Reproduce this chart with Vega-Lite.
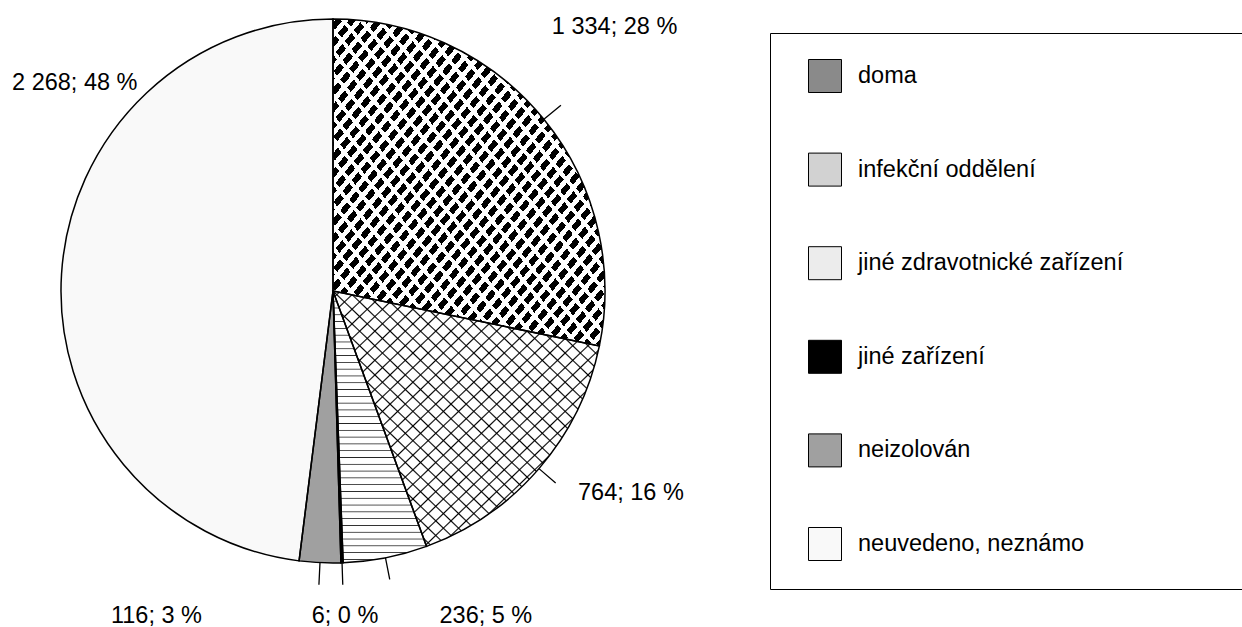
{
  "$schema": "https://vega.github.io/schema/vega-lite/v6.json",
  "width": 666,
  "height": 582,
  "autosize": {"type": "none"},
  "padding": {"left": 0, "top": 0, "right": 576, "bottom": 45},
  "background": "white",
  "config": {"view": {"stroke": null}, "font": "Liberation Sans"},
  "data": {
    "values": [
      {"kategorie": "doma", "n": 1334, "label": "1 334; 28 %"},
      {"kategorie": "infekční oddělení", "n": 764, "label": "764; 16 %"},
      {"kategorie": "jiné zdravotnické zařízení", "n": 236, "label": "236; 5 %"},
      {"kategorie": "jiné zařízení", "n": 6, "label": "6; 0 %"},
      {"kategorie": "neizolován", "n": 116, "label": "116; 3 %"},
      {"kategorie": "neuvedeno, neznámo", "n": 2268, "label": "2 268; 48 %"}
    ]
  },
  "transform": [
    {"window": [{"op": "row_number", "as": "i"}]},
    {"stack": "n", "groupby": [], "sort": [{"field": "i", "order": "ascending"}], "as": ["t0", "t1"]},
    {"calculate": "(datum.t0 + datum.t1) / 2", "as": "mid"}
  ],
  "layer": [
    {
      "mark": {"type": "arc", "outerRadius": 272, "stroke": null},
      "encoding": {
        "theta": {"field": "t1", "type": "quantitative", "stack": null},
        "theta2": {"field": "t0"},
        "fill": {
          "field": "kategorie",
          "type": "nominal",
          "scale": {
            "domain": ["doma", "infekční oddělení", "jiné zdravotnické zařízení", "jiné zařízení", "neizolován", "neuvedeno, neznámo"],
            "range": ["#8a8a8a", "#d2d2d2", "#ececec", "#000000", "#a0a0a0", "#f9f9f9"]
          },
          "legend": {
            "title": null,
            "orient": "none",
            "legendX": 770,
            "legendY": 33,
            "padding": 26,
            "strokeColor": "black",
            "fillColor": "white",
            "symbolType": "square",
            "symbolSize": 1089,
            "symbolStrokeColor": "black",
            "symbolStrokeWidth": 1,
            "symbolOpacity": 1,
            "symbolOffset": 12,
            "labelOffset": 16,
            "labelFontSize": 23.5,
            "labelFont": "Liberation Sans",
            "labelColor": "black",
            "labelLimit": 800,
            "labelExpr": "datum.label + '\u2800\u2800\u2800\u2800\u2800\u2800'",
            "rowPadding": 55.6
          }
        }
      }
    },
    {
      "transform": [{"filter": "datum.kategorie === 'doma'"}],
      "mark": {"type": "arc", "outerRadius": 272, "stroke": null, "fill": {"gradient": "linear", "x1": 0, "y1": 0, "x2": 1, "y2": 1, "stops": [
        {"offset": 0, "color": "#fff"},
        {"offset": 0.0055, "color": "#fff"}, {"offset": 0.0055, "color": "#000"}, {"offset": 0.0195, "color": "#000"}, {"offset": 0.0195, "color": "#fff"},
        {"offset": 0.0305, "color": "#fff"}, {"offset": 0.0305, "color": "#000"}, {"offset": 0.0445, "color": "#000"}, {"offset": 0.0445, "color": "#fff"},
        {"offset": 0.0555, "color": "#fff"}, {"offset": 0.0555, "color": "#000"}, {"offset": 0.0695, "color": "#000"}, {"offset": 0.0695, "color": "#fff"},
        {"offset": 0.0805, "color": "#fff"}, {"offset": 0.0805, "color": "#000"}, {"offset": 0.0945, "color": "#000"}, {"offset": 0.0945, "color": "#fff"},
        {"offset": 0.1055, "color": "#fff"}, {"offset": 0.1055, "color": "#000"}, {"offset": 0.1195, "color": "#000"}, {"offset": 0.1195, "color": "#fff"},
        {"offset": 0.1305, "color": "#fff"}, {"offset": 0.1305, "color": "#000"}, {"offset": 0.1445, "color": "#000"}, {"offset": 0.1445, "color": "#fff"},
        {"offset": 0.1555, "color": "#fff"}, {"offset": 0.1555, "color": "#000"}, {"offset": 0.1695, "color": "#000"}, {"offset": 0.1695, "color": "#fff"},
        {"offset": 0.1805, "color": "#fff"}, {"offset": 0.1805, "color": "#000"}, {"offset": 0.1945, "color": "#000"}, {"offset": 0.1945, "color": "#fff"},
        {"offset": 0.2055, "color": "#fff"}, {"offset": 0.2055, "color": "#000"}, {"offset": 0.2195, "color": "#000"}, {"offset": 0.2195, "color": "#fff"},
        {"offset": 0.2305, "color": "#fff"}, {"offset": 0.2305, "color": "#000"}, {"offset": 0.2445, "color": "#000"}, {"offset": 0.2445, "color": "#fff"},
        {"offset": 0.2555, "color": "#fff"}, {"offset": 0.2555, "color": "#000"}, {"offset": 0.2695, "color": "#000"}, {"offset": 0.2695, "color": "#fff"},
        {"offset": 0.2805, "color": "#fff"}, {"offset": 0.2805, "color": "#000"}, {"offset": 0.2945, "color": "#000"}, {"offset": 0.2945, "color": "#fff"},
        {"offset": 0.3055, "color": "#fff"}, {"offset": 0.3055, "color": "#000"}, {"offset": 0.3195, "color": "#000"}, {"offset": 0.3195, "color": "#fff"},
        {"offset": 0.3305, "color": "#fff"}, {"offset": 0.3305, "color": "#000"}, {"offset": 0.3445, "color": "#000"}, {"offset": 0.3445, "color": "#fff"},
        {"offset": 0.3555, "color": "#fff"}, {"offset": 0.3555, "color": "#000"}, {"offset": 0.3695, "color": "#000"}, {"offset": 0.3695, "color": "#fff"},
        {"offset": 0.3805, "color": "#fff"}, {"offset": 0.3805, "color": "#000"}, {"offset": 0.3945, "color": "#000"}, {"offset": 0.3945, "color": "#fff"},
        {"offset": 0.4055, "color": "#fff"}, {"offset": 0.4055, "color": "#000"}, {"offset": 0.4195, "color": "#000"}, {"offset": 0.4195, "color": "#fff"},
        {"offset": 0.4305, "color": "#fff"}, {"offset": 0.4305, "color": "#000"}, {"offset": 0.4445, "color": "#000"}, {"offset": 0.4445, "color": "#fff"},
        {"offset": 0.4555, "color": "#fff"}, {"offset": 0.4555, "color": "#000"}, {"offset": 0.4695, "color": "#000"}, {"offset": 0.4695, "color": "#fff"},
        {"offset": 0.4805, "color": "#fff"}, {"offset": 0.4805, "color": "#000"}, {"offset": 0.4945, "color": "#000"}, {"offset": 0.4945, "color": "#fff"},
        {"offset": 0.5055, "color": "#fff"}, {"offset": 0.5055, "color": "#000"}, {"offset": 0.5195, "color": "#000"}, {"offset": 0.5195, "color": "#fff"},
        {"offset": 0.5305, "color": "#fff"}, {"offset": 0.5305, "color": "#000"}, {"offset": 0.5445, "color": "#000"}, {"offset": 0.5445, "color": "#fff"},
        {"offset": 0.5555, "color": "#fff"}, {"offset": 0.5555, "color": "#000"}, {"offset": 0.5695, "color": "#000"}, {"offset": 0.5695, "color": "#fff"},
        {"offset": 0.5805, "color": "#fff"}, {"offset": 0.5805, "color": "#000"}, {"offset": 0.5945, "color": "#000"}, {"offset": 0.5945, "color": "#fff"},
        {"offset": 0.6055, "color": "#fff"}, {"offset": 0.6055, "color": "#000"}, {"offset": 0.6195, "color": "#000"}, {"offset": 0.6195, "color": "#fff"},
        {"offset": 0.6305, "color": "#fff"}, {"offset": 0.6305, "color": "#000"}, {"offset": 0.6445, "color": "#000"}, {"offset": 0.6445, "color": "#fff"},
        {"offset": 0.6555, "color": "#fff"}, {"offset": 0.6555, "color": "#000"}, {"offset": 0.6695, "color": "#000"}, {"offset": 0.6695, "color": "#fff"},
        {"offset": 0.6805, "color": "#fff"}, {"offset": 0.6805, "color": "#000"}, {"offset": 0.6945, "color": "#000"}, {"offset": 0.6945, "color": "#fff"},
        {"offset": 0.7055, "color": "#fff"}, {"offset": 0.7055, "color": "#000"}, {"offset": 0.7195, "color": "#000"}, {"offset": 0.7195, "color": "#fff"},
        {"offset": 0.7305, "color": "#fff"}, {"offset": 0.7305, "color": "#000"}, {"offset": 0.7445, "color": "#000"}, {"offset": 0.7445, "color": "#fff"},
        {"offset": 0.7555, "color": "#fff"}, {"offset": 0.7555, "color": "#000"}, {"offset": 0.7695, "color": "#000"}, {"offset": 0.7695, "color": "#fff"},
        {"offset": 0.7805, "color": "#fff"}, {"offset": 0.7805, "color": "#000"}, {"offset": 0.7945, "color": "#000"}, {"offset": 0.7945, "color": "#fff"},
        {"offset": 0.8055, "color": "#fff"}, {"offset": 0.8055, "color": "#000"}, {"offset": 0.8195, "color": "#000"}, {"offset": 0.8195, "color": "#fff"},
        {"offset": 0.8305, "color": "#fff"}, {"offset": 0.8305, "color": "#000"}, {"offset": 0.8445, "color": "#000"}, {"offset": 0.8445, "color": "#fff"},
        {"offset": 0.8555, "color": "#fff"}, {"offset": 0.8555, "color": "#000"}, {"offset": 0.8695, "color": "#000"}, {"offset": 0.8695, "color": "#fff"},
        {"offset": 0.8805, "color": "#fff"}, {"offset": 0.8805, "color": "#000"}, {"offset": 0.8945, "color": "#000"}, {"offset": 0.8945, "color": "#fff"},
        {"offset": 0.9055, "color": "#fff"}, {"offset": 0.9055, "color": "#000"}, {"offset": 0.9195, "color": "#000"}, {"offset": 0.9195, "color": "#fff"},
        {"offset": 0.9305, "color": "#fff"}, {"offset": 0.9305, "color": "#000"}, {"offset": 0.9445, "color": "#000"}, {"offset": 0.9445, "color": "#fff"},
        {"offset": 0.9555, "color": "#fff"}, {"offset": 0.9555, "color": "#000"}, {"offset": 0.9695, "color": "#000"}, {"offset": 0.9695, "color": "#fff"},
        {"offset": 0.9805, "color": "#fff"}, {"offset": 0.9805, "color": "#000"}, {"offset": 0.9945, "color": "#000"}, {"offset": 0.9945, "color": "#fff"},
        {"offset": 1, "color": "#fff"}
      ]}},
      "encoding": {"theta": {"field": "t1", "type": "quantitative", "stack": null}, "theta2": {"field": "t0"}}
    },
    {
      "transform": [{"filter": "datum.kategorie === 'doma'"}],
      "mark": {"type": "arc", "outerRadius": 272, "stroke": null, "fill": {"gradient": "linear", "x1": 1, "y1": 0, "x2": 0, "y2": 1, "stops": [
        {"offset": 0, "color": "transparent"},
        {"offset": 0.0122, "color": "transparent"}, {"offset": 0.0122, "color": "#fff"}, {"offset": 0.0212, "color": "#fff"}, {"offset": 0.0212, "color": "transparent"},
        {"offset": 0.0455, "color": "transparent"}, {"offset": 0.0455, "color": "#fff"}, {"offset": 0.0545, "color": "#fff"}, {"offset": 0.0545, "color": "transparent"},
        {"offset": 0.0788, "color": "transparent"}, {"offset": 0.0788, "color": "#fff"}, {"offset": 0.0878, "color": "#fff"}, {"offset": 0.0878, "color": "transparent"},
        {"offset": 0.1122, "color": "transparent"}, {"offset": 0.1122, "color": "#fff"}, {"offset": 0.1212, "color": "#fff"}, {"offset": 0.1212, "color": "transparent"},
        {"offset": 0.1455, "color": "transparent"}, {"offset": 0.1455, "color": "#fff"}, {"offset": 0.1545, "color": "#fff"}, {"offset": 0.1545, "color": "transparent"},
        {"offset": 0.1788, "color": "transparent"}, {"offset": 0.1788, "color": "#fff"}, {"offset": 0.1878, "color": "#fff"}, {"offset": 0.1878, "color": "transparent"},
        {"offset": 0.2122, "color": "transparent"}, {"offset": 0.2122, "color": "#fff"}, {"offset": 0.2212, "color": "#fff"}, {"offset": 0.2212, "color": "transparent"},
        {"offset": 0.2455, "color": "transparent"}, {"offset": 0.2455, "color": "#fff"}, {"offset": 0.2545, "color": "#fff"}, {"offset": 0.2545, "color": "transparent"},
        {"offset": 0.2788, "color": "transparent"}, {"offset": 0.2788, "color": "#fff"}, {"offset": 0.2878, "color": "#fff"}, {"offset": 0.2878, "color": "transparent"},
        {"offset": 0.3122, "color": "transparent"}, {"offset": 0.3122, "color": "#fff"}, {"offset": 0.3212, "color": "#fff"}, {"offset": 0.3212, "color": "transparent"},
        {"offset": 0.3455, "color": "transparent"}, {"offset": 0.3455, "color": "#fff"}, {"offset": 0.3545, "color": "#fff"}, {"offset": 0.3545, "color": "transparent"},
        {"offset": 0.3788, "color": "transparent"}, {"offset": 0.3788, "color": "#fff"}, {"offset": 0.3878, "color": "#fff"}, {"offset": 0.3878, "color": "transparent"},
        {"offset": 0.4122, "color": "transparent"}, {"offset": 0.4122, "color": "#fff"}, {"offset": 0.4212, "color": "#fff"}, {"offset": 0.4212, "color": "transparent"},
        {"offset": 0.4455, "color": "transparent"}, {"offset": 0.4455, "color": "#fff"}, {"offset": 0.4545, "color": "#fff"}, {"offset": 0.4545, "color": "transparent"},
        {"offset": 0.4788, "color": "transparent"}, {"offset": 0.4788, "color": "#fff"}, {"offset": 0.4878, "color": "#fff"}, {"offset": 0.4878, "color": "transparent"},
        {"offset": 0.5122, "color": "transparent"}, {"offset": 0.5122, "color": "#fff"}, {"offset": 0.5212, "color": "#fff"}, {"offset": 0.5212, "color": "transparent"},
        {"offset": 0.5455, "color": "transparent"}, {"offset": 0.5455, "color": "#fff"}, {"offset": 0.5545, "color": "#fff"}, {"offset": 0.5545, "color": "transparent"},
        {"offset": 0.5788, "color": "transparent"}, {"offset": 0.5788, "color": "#fff"}, {"offset": 0.5878, "color": "#fff"}, {"offset": 0.5878, "color": "transparent"},
        {"offset": 0.6122, "color": "transparent"}, {"offset": 0.6122, "color": "#fff"}, {"offset": 0.6212, "color": "#fff"}, {"offset": 0.6212, "color": "transparent"},
        {"offset": 0.6455, "color": "transparent"}, {"offset": 0.6455, "color": "#fff"}, {"offset": 0.6545, "color": "#fff"}, {"offset": 0.6545, "color": "transparent"},
        {"offset": 0.6788, "color": "transparent"}, {"offset": 0.6788, "color": "#fff"}, {"offset": 0.6878, "color": "#fff"}, {"offset": 0.6878, "color": "transparent"},
        {"offset": 0.7122, "color": "transparent"}, {"offset": 0.7122, "color": "#fff"}, {"offset": 0.7212, "color": "#fff"}, {"offset": 0.7212, "color": "transparent"},
        {"offset": 0.7455, "color": "transparent"}, {"offset": 0.7455, "color": "#fff"}, {"offset": 0.7545, "color": "#fff"}, {"offset": 0.7545, "color": "transparent"},
        {"offset": 0.7788, "color": "transparent"}, {"offset": 0.7788, "color": "#fff"}, {"offset": 0.7878, "color": "#fff"}, {"offset": 0.7878, "color": "transparent"},
        {"offset": 0.8122, "color": "transparent"}, {"offset": 0.8122, "color": "#fff"}, {"offset": 0.8212, "color": "#fff"}, {"offset": 0.8212, "color": "transparent"},
        {"offset": 0.8455, "color": "transparent"}, {"offset": 0.8455, "color": "#fff"}, {"offset": 0.8545, "color": "#fff"}, {"offset": 0.8545, "color": "transparent"},
        {"offset": 0.8788, "color": "transparent"}, {"offset": 0.8788, "color": "#fff"}, {"offset": 0.8878, "color": "#fff"}, {"offset": 0.8878, "color": "transparent"},
        {"offset": 0.9122, "color": "transparent"}, {"offset": 0.9122, "color": "#fff"}, {"offset": 0.9212, "color": "#fff"}, {"offset": 0.9212, "color": "transparent"},
        {"offset": 0.9455, "color": "transparent"}, {"offset": 0.9455, "color": "#fff"}, {"offset": 0.9545, "color": "#fff"}, {"offset": 0.9545, "color": "transparent"},
        {"offset": 0.9788, "color": "transparent"}, {"offset": 0.9788, "color": "#fff"}, {"offset": 0.9878, "color": "#fff"}, {"offset": 0.9878, "color": "transparent"},
        {"offset": 1, "color": "transparent"}
      ]}},
      "encoding": {"theta": {"field": "t1", "type": "quantitative", "stack": null}, "theta2": {"field": "t0"}}
    },
    {
      "transform": [{"filter": "datum.kategorie === 'infekční oddělení'"}],
      "mark": {"type": "arc", "outerRadius": 272, "stroke": null, "fill": {"gradient": "linear", "x1": 0, "y1": 0, "x2": 1, "y2": 1, "stops": [
        {"offset": 0, "color": "#fff"},
        {"offset": 0.0113, "color": "#fff"}, {"offset": 0.0143, "color": "#000"}, {"offset": 0.0173, "color": "#fff"},
        {"offset": 0.0399, "color": "#fff"}, {"offset": 0.0429, "color": "#000"}, {"offset": 0.0459, "color": "#fff"},
        {"offset": 0.0684, "color": "#fff"}, {"offset": 0.0714, "color": "#000"}, {"offset": 0.0744, "color": "#fff"},
        {"offset": 0.0970, "color": "#fff"}, {"offset": 0.1000, "color": "#000"}, {"offset": 0.1030, "color": "#fff"},
        {"offset": 0.1256, "color": "#fff"}, {"offset": 0.1286, "color": "#000"}, {"offset": 0.1316, "color": "#fff"},
        {"offset": 0.1541, "color": "#fff"}, {"offset": 0.1571, "color": "#000"}, {"offset": 0.1601, "color": "#fff"},
        {"offset": 0.1827, "color": "#fff"}, {"offset": 0.1857, "color": "#000"}, {"offset": 0.1887, "color": "#fff"},
        {"offset": 0.2113, "color": "#fff"}, {"offset": 0.2143, "color": "#000"}, {"offset": 0.2173, "color": "#fff"},
        {"offset": 0.2399, "color": "#fff"}, {"offset": 0.2429, "color": "#000"}, {"offset": 0.2459, "color": "#fff"},
        {"offset": 0.2684, "color": "#fff"}, {"offset": 0.2714, "color": "#000"}, {"offset": 0.2744, "color": "#fff"},
        {"offset": 0.2970, "color": "#fff"}, {"offset": 0.3000, "color": "#000"}, {"offset": 0.3030, "color": "#fff"},
        {"offset": 0.3256, "color": "#fff"}, {"offset": 0.3286, "color": "#000"}, {"offset": 0.3316, "color": "#fff"},
        {"offset": 0.3541, "color": "#fff"}, {"offset": 0.3571, "color": "#000"}, {"offset": 0.3601, "color": "#fff"},
        {"offset": 0.3827, "color": "#fff"}, {"offset": 0.3857, "color": "#000"}, {"offset": 0.3887, "color": "#fff"},
        {"offset": 0.4113, "color": "#fff"}, {"offset": 0.4143, "color": "#000"}, {"offset": 0.4173, "color": "#fff"},
        {"offset": 0.4399, "color": "#fff"}, {"offset": 0.4429, "color": "#000"}, {"offset": 0.4459, "color": "#fff"},
        {"offset": 0.4684, "color": "#fff"}, {"offset": 0.4714, "color": "#000"}, {"offset": 0.4744, "color": "#fff"},
        {"offset": 0.4970, "color": "#fff"}, {"offset": 0.5000, "color": "#000"}, {"offset": 0.5030, "color": "#fff"},
        {"offset": 0.5256, "color": "#fff"}, {"offset": 0.5286, "color": "#000"}, {"offset": 0.5316, "color": "#fff"},
        {"offset": 0.5541, "color": "#fff"}, {"offset": 0.5571, "color": "#000"}, {"offset": 0.5601, "color": "#fff"},
        {"offset": 0.5827, "color": "#fff"}, {"offset": 0.5857, "color": "#000"}, {"offset": 0.5887, "color": "#fff"},
        {"offset": 0.6113, "color": "#fff"}, {"offset": 0.6143, "color": "#000"}, {"offset": 0.6173, "color": "#fff"},
        {"offset": 0.6399, "color": "#fff"}, {"offset": 0.6429, "color": "#000"}, {"offset": 0.6459, "color": "#fff"},
        {"offset": 0.6684, "color": "#fff"}, {"offset": 0.6714, "color": "#000"}, {"offset": 0.6744, "color": "#fff"},
        {"offset": 0.6970, "color": "#fff"}, {"offset": 0.7000, "color": "#000"}, {"offset": 0.7030, "color": "#fff"},
        {"offset": 0.7256, "color": "#fff"}, {"offset": 0.7286, "color": "#000"}, {"offset": 0.7316, "color": "#fff"},
        {"offset": 0.7541, "color": "#fff"}, {"offset": 0.7571, "color": "#000"}, {"offset": 0.7601, "color": "#fff"},
        {"offset": 0.7827, "color": "#fff"}, {"offset": 0.7857, "color": "#000"}, {"offset": 0.7887, "color": "#fff"},
        {"offset": 0.8113, "color": "#fff"}, {"offset": 0.8143, "color": "#000"}, {"offset": 0.8173, "color": "#fff"},
        {"offset": 0.8399, "color": "#fff"}, {"offset": 0.8429, "color": "#000"}, {"offset": 0.8459, "color": "#fff"},
        {"offset": 0.8684, "color": "#fff"}, {"offset": 0.8714, "color": "#000"}, {"offset": 0.8744, "color": "#fff"},
        {"offset": 0.8970, "color": "#fff"}, {"offset": 0.9000, "color": "#000"}, {"offset": 0.9030, "color": "#fff"},
        {"offset": 0.9256, "color": "#fff"}, {"offset": 0.9286, "color": "#000"}, {"offset": 0.9316, "color": "#fff"},
        {"offset": 0.9541, "color": "#fff"}, {"offset": 0.9571, "color": "#000"}, {"offset": 0.9601, "color": "#fff"},
        {"offset": 0.9827, "color": "#fff"}, {"offset": 0.9857, "color": "#000"}, {"offset": 0.9887, "color": "#fff"},
        {"offset": 1, "color": "#fff"}
      ]}},
      "encoding": {"theta": {"field": "t1", "type": "quantitative", "stack": null}, "theta2": {"field": "t0"}}
    },
    {
      "transform": [{"filter": "datum.kategorie === 'infekční oddělení'"}],
      "mark": {"type": "arc", "outerRadius": 272, "stroke": null, "fill": {"gradient": "linear", "x1": 1, "y1": 0, "x2": 0, "y2": 1, "stops": [
        {"offset": 0, "color": "transparent"},
        {"offset": 0.0113, "color": "transparent"}, {"offset": 0.0143, "color": "#000"}, {"offset": 0.0173, "color": "transparent"},
        {"offset": 0.0399, "color": "transparent"}, {"offset": 0.0429, "color": "#000"}, {"offset": 0.0459, "color": "transparent"},
        {"offset": 0.0684, "color": "transparent"}, {"offset": 0.0714, "color": "#000"}, {"offset": 0.0744, "color": "transparent"},
        {"offset": 0.0970, "color": "transparent"}, {"offset": 0.1000, "color": "#000"}, {"offset": 0.1030, "color": "transparent"},
        {"offset": 0.1256, "color": "transparent"}, {"offset": 0.1286, "color": "#000"}, {"offset": 0.1316, "color": "transparent"},
        {"offset": 0.1541, "color": "transparent"}, {"offset": 0.1571, "color": "#000"}, {"offset": 0.1601, "color": "transparent"},
        {"offset": 0.1827, "color": "transparent"}, {"offset": 0.1857, "color": "#000"}, {"offset": 0.1887, "color": "transparent"},
        {"offset": 0.2113, "color": "transparent"}, {"offset": 0.2143, "color": "#000"}, {"offset": 0.2173, "color": "transparent"},
        {"offset": 0.2399, "color": "transparent"}, {"offset": 0.2429, "color": "#000"}, {"offset": 0.2459, "color": "transparent"},
        {"offset": 0.2684, "color": "transparent"}, {"offset": 0.2714, "color": "#000"}, {"offset": 0.2744, "color": "transparent"},
        {"offset": 0.2970, "color": "transparent"}, {"offset": 0.3000, "color": "#000"}, {"offset": 0.3030, "color": "transparent"},
        {"offset": 0.3256, "color": "transparent"}, {"offset": 0.3286, "color": "#000"}, {"offset": 0.3316, "color": "transparent"},
        {"offset": 0.3541, "color": "transparent"}, {"offset": 0.3571, "color": "#000"}, {"offset": 0.3601, "color": "transparent"},
        {"offset": 0.3827, "color": "transparent"}, {"offset": 0.3857, "color": "#000"}, {"offset": 0.3887, "color": "transparent"},
        {"offset": 0.4113, "color": "transparent"}, {"offset": 0.4143, "color": "#000"}, {"offset": 0.4173, "color": "transparent"},
        {"offset": 0.4399, "color": "transparent"}, {"offset": 0.4429, "color": "#000"}, {"offset": 0.4459, "color": "transparent"},
        {"offset": 0.4684, "color": "transparent"}, {"offset": 0.4714, "color": "#000"}, {"offset": 0.4744, "color": "transparent"},
        {"offset": 0.4970, "color": "transparent"}, {"offset": 0.5000, "color": "#000"}, {"offset": 0.5030, "color": "transparent"},
        {"offset": 0.5256, "color": "transparent"}, {"offset": 0.5286, "color": "#000"}, {"offset": 0.5316, "color": "transparent"},
        {"offset": 0.5541, "color": "transparent"}, {"offset": 0.5571, "color": "#000"}, {"offset": 0.5601, "color": "transparent"},
        {"offset": 0.5827, "color": "transparent"}, {"offset": 0.5857, "color": "#000"}, {"offset": 0.5887, "color": "transparent"},
        {"offset": 0.6113, "color": "transparent"}, {"offset": 0.6143, "color": "#000"}, {"offset": 0.6173, "color": "transparent"},
        {"offset": 0.6399, "color": "transparent"}, {"offset": 0.6429, "color": "#000"}, {"offset": 0.6459, "color": "transparent"},
        {"offset": 0.6684, "color": "transparent"}, {"offset": 0.6714, "color": "#000"}, {"offset": 0.6744, "color": "transparent"},
        {"offset": 0.6970, "color": "transparent"}, {"offset": 0.7000, "color": "#000"}, {"offset": 0.7030, "color": "transparent"},
        {"offset": 0.7256, "color": "transparent"}, {"offset": 0.7286, "color": "#000"}, {"offset": 0.7316, "color": "transparent"},
        {"offset": 0.7541, "color": "transparent"}, {"offset": 0.7571, "color": "#000"}, {"offset": 0.7601, "color": "transparent"},
        {"offset": 0.7827, "color": "transparent"}, {"offset": 0.7857, "color": "#000"}, {"offset": 0.7887, "color": "transparent"},
        {"offset": 0.8113, "color": "transparent"}, {"offset": 0.8143, "color": "#000"}, {"offset": 0.8173, "color": "transparent"},
        {"offset": 0.8399, "color": "transparent"}, {"offset": 0.8429, "color": "#000"}, {"offset": 0.8459, "color": "transparent"},
        {"offset": 0.8684, "color": "transparent"}, {"offset": 0.8714, "color": "#000"}, {"offset": 0.8744, "color": "transparent"},
        {"offset": 0.8970, "color": "transparent"}, {"offset": 0.9000, "color": "#000"}, {"offset": 0.9030, "color": "transparent"},
        {"offset": 0.9256, "color": "transparent"}, {"offset": 0.9286, "color": "#000"}, {"offset": 0.9316, "color": "transparent"},
        {"offset": 0.9541, "color": "transparent"}, {"offset": 0.9571, "color": "#000"}, {"offset": 0.9601, "color": "transparent"},
        {"offset": 0.9827, "color": "transparent"}, {"offset": 0.9857, "color": "#000"}, {"offset": 0.9887, "color": "transparent"},
        {"offset": 1, "color": "transparent"}
      ]}},
      "encoding": {"theta": {"field": "t1", "type": "quantitative", "stack": null}, "theta2": {"field": "t0"}}
    },
    {
      "transform": [{"filter": "datum.kategorie === 'jiné zdravotnické zařízení'"}],
      "mark": {"type": "arc", "outerRadius": 272, "stroke": null, "fill": {"gradient": "linear", "x1": 0, "y1": 0, "x2": 0, "y2": 1, "stops": [
        {"offset": 0, "color": "#fff"},
        {"offset": 0.0095, "color": "#fff"}, {"offset": 0.0125, "color": "#222"}, {"offset": 0.0155, "color": "#fff"},
        {"offset": 0.0345, "color": "#fff"}, {"offset": 0.0375, "color": "#222"}, {"offset": 0.0405, "color": "#fff"},
        {"offset": 0.0595, "color": "#fff"}, {"offset": 0.0625, "color": "#222"}, {"offset": 0.0655, "color": "#fff"},
        {"offset": 0.0845, "color": "#fff"}, {"offset": 0.0875, "color": "#222"}, {"offset": 0.0905, "color": "#fff"},
        {"offset": 0.1095, "color": "#fff"}, {"offset": 0.1125, "color": "#222"}, {"offset": 0.1155, "color": "#fff"},
        {"offset": 0.1345, "color": "#fff"}, {"offset": 0.1375, "color": "#222"}, {"offset": 0.1405, "color": "#fff"},
        {"offset": 0.1595, "color": "#fff"}, {"offset": 0.1625, "color": "#222"}, {"offset": 0.1655, "color": "#fff"},
        {"offset": 0.1845, "color": "#fff"}, {"offset": 0.1875, "color": "#222"}, {"offset": 0.1905, "color": "#fff"},
        {"offset": 0.2095, "color": "#fff"}, {"offset": 0.2125, "color": "#222"}, {"offset": 0.2155, "color": "#fff"},
        {"offset": 0.2345, "color": "#fff"}, {"offset": 0.2375, "color": "#222"}, {"offset": 0.2405, "color": "#fff"},
        {"offset": 0.2595, "color": "#fff"}, {"offset": 0.2625, "color": "#222"}, {"offset": 0.2655, "color": "#fff"},
        {"offset": 0.2845, "color": "#fff"}, {"offset": 0.2875, "color": "#222"}, {"offset": 0.2905, "color": "#fff"},
        {"offset": 0.3095, "color": "#fff"}, {"offset": 0.3125, "color": "#222"}, {"offset": 0.3155, "color": "#fff"},
        {"offset": 0.3345, "color": "#fff"}, {"offset": 0.3375, "color": "#222"}, {"offset": 0.3405, "color": "#fff"},
        {"offset": 0.3595, "color": "#fff"}, {"offset": 0.3625, "color": "#222"}, {"offset": 0.3655, "color": "#fff"},
        {"offset": 0.3845, "color": "#fff"}, {"offset": 0.3875, "color": "#222"}, {"offset": 0.3905, "color": "#fff"},
        {"offset": 0.4095, "color": "#fff"}, {"offset": 0.4125, "color": "#222"}, {"offset": 0.4155, "color": "#fff"},
        {"offset": 0.4345, "color": "#fff"}, {"offset": 0.4375, "color": "#222"}, {"offset": 0.4405, "color": "#fff"},
        {"offset": 0.4595, "color": "#fff"}, {"offset": 0.4625, "color": "#222"}, {"offset": 0.4655, "color": "#fff"},
        {"offset": 0.4845, "color": "#fff"}, {"offset": 0.4875, "color": "#222"}, {"offset": 0.4905, "color": "#fff"},
        {"offset": 0.5095, "color": "#fff"}, {"offset": 0.5125, "color": "#222"}, {"offset": 0.5155, "color": "#fff"},
        {"offset": 0.5345, "color": "#fff"}, {"offset": 0.5375, "color": "#222"}, {"offset": 0.5405, "color": "#fff"},
        {"offset": 0.5595, "color": "#fff"}, {"offset": 0.5625, "color": "#222"}, {"offset": 0.5655, "color": "#fff"},
        {"offset": 0.5845, "color": "#fff"}, {"offset": 0.5875, "color": "#222"}, {"offset": 0.5905, "color": "#fff"},
        {"offset": 0.6095, "color": "#fff"}, {"offset": 0.6125, "color": "#222"}, {"offset": 0.6155, "color": "#fff"},
        {"offset": 0.6345, "color": "#fff"}, {"offset": 0.6375, "color": "#222"}, {"offset": 0.6405, "color": "#fff"},
        {"offset": 0.6595, "color": "#fff"}, {"offset": 0.6625, "color": "#222"}, {"offset": 0.6655, "color": "#fff"},
        {"offset": 0.6845, "color": "#fff"}, {"offset": 0.6875, "color": "#222"}, {"offset": 0.6905, "color": "#fff"},
        {"offset": 0.7095, "color": "#fff"}, {"offset": 0.7125, "color": "#222"}, {"offset": 0.7155, "color": "#fff"},
        {"offset": 0.7345, "color": "#fff"}, {"offset": 0.7375, "color": "#222"}, {"offset": 0.7405, "color": "#fff"},
        {"offset": 0.7595, "color": "#fff"}, {"offset": 0.7625, "color": "#222"}, {"offset": 0.7655, "color": "#fff"},
        {"offset": 0.7845, "color": "#fff"}, {"offset": 0.7875, "color": "#222"}, {"offset": 0.7905, "color": "#fff"},
        {"offset": 0.8095, "color": "#fff"}, {"offset": 0.8125, "color": "#222"}, {"offset": 0.8155, "color": "#fff"},
        {"offset": 0.8345, "color": "#fff"}, {"offset": 0.8375, "color": "#222"}, {"offset": 0.8405, "color": "#fff"},
        {"offset": 0.8595, "color": "#fff"}, {"offset": 0.8625, "color": "#222"}, {"offset": 0.8655, "color": "#fff"},
        {"offset": 0.8845, "color": "#fff"}, {"offset": 0.8875, "color": "#222"}, {"offset": 0.8905, "color": "#fff"},
        {"offset": 0.9095, "color": "#fff"}, {"offset": 0.9125, "color": "#222"}, {"offset": 0.9155, "color": "#fff"},
        {"offset": 0.9345, "color": "#fff"}, {"offset": 0.9375, "color": "#222"}, {"offset": 0.9405, "color": "#fff"},
        {"offset": 0.9595, "color": "#fff"}, {"offset": 0.9625, "color": "#222"}, {"offset": 0.9655, "color": "#fff"},
        {"offset": 0.9845, "color": "#fff"}, {"offset": 0.9875, "color": "#222"}, {"offset": 0.9905, "color": "#fff"},
        {"offset": 1, "color": "#fff"}
      ]}},
      "encoding": {"theta": {"field": "t1", "type": "quantitative", "stack": null}, "theta2": {"field": "t0"}}
    },
    {
      "mark": {"type": "arc", "outerRadius": 272, "fillOpacity": 0, "stroke": "black", "strokeWidth": 1.5},
      "encoding": {"theta": {"field": "t1", "type": "quantitative", "stack": null}, "theta2": {"field": "t0"}}
    },
    {
      "transform": [{"filter": "datum.kategorie !== 'neuvedeno, neznámo'"}],
      "mark": {"type": "arc", "radius": 294, "radius2": 272, "fillOpacity": 0, "stroke": "black", "strokeWidth": 1.3},
      "encoding": {
        "theta": {"field": "mid", "type": "quantitative", "stack": null},
        "theta2": {"field": "mid"}
      }
    },
    {
      "transform": [{"filter": "datum.kategorie === 'doma'"}],
      "mark": {"type": "text", "radius": 272, "align": "left", "baseline": "alphabetic", "dx": 8, "dy": -85, "fontSize": 23.5, "font": "Liberation Sans", "color": "black"},
      "encoding": {"theta": {"field": "mid", "type": "quantitative", "stack": null}, "text": {"field": "label"}}
    },
    {
      "transform": [{"filter": "datum.kategorie === 'infekční oddělení'"}],
      "mark": {"type": "text", "radius": 272, "align": "left", "baseline": "alphabetic", "dx": 39, "dy": 31, "fontSize": 23.5, "font": "Liberation Sans", "color": "black"},
      "encoding": {"theta": {"field": "mid", "type": "quantitative", "stack": null}, "text": {"field": "label"}}
    },
    {
      "transform": [{"filter": "datum.kategorie === 'jiné zdravotnické zařízení'"}],
      "mark": {"type": "text", "radius": 272, "align": "left", "baseline": "alphabetic", "dx": 54, "dy": 65, "fontSize": 23.5, "font": "Liberation Sans", "color": "black"},
      "encoding": {"theta": {"field": "mid", "type": "quantitative", "stack": null}, "text": {"field": "label"}}
    },
    {
      "transform": [{"filter": "datum.kategorie === 'jiné zařízení'"}],
      "mark": {"type": "text", "radius": 272, "align": "center", "baseline": "alphabetic", "dx": 3, "dy": 60, "fontSize": 23.5, "font": "Liberation Sans", "color": "black"},
      "encoding": {"theta": {"field": "mid", "type": "quantitative", "stack": null}, "text": {"field": "label"}}
    },
    {
      "transform": [{"filter": "datum.kategorie === 'neizolován'"}],
      "mark": {"type": "text", "radius": 272, "align": "right", "baseline": "alphabetic", "dx": -118, "dy": 60, "fontSize": 23.5, "font": "Liberation Sans", "color": "black"},
      "encoding": {"theta": {"field": "mid", "type": "quantitative", "stack": null}, "text": {"field": "label"}}
    },
    {
      "transform": [{"filter": "datum.kategorie === 'neuvedeno, neznámo'"}],
      "mark": {"type": "text", "radius": 272, "align": "left", "baseline": "alphabetic", "dx": -49.5, "dy": -184, "fontSize": 23.5, "font": "Liberation Sans", "color": "black"},
      "encoding": {"theta": {"field": "mid", "type": "quantitative", "stack": null}, "text": {"field": "label"}}
    }
  ]
}
